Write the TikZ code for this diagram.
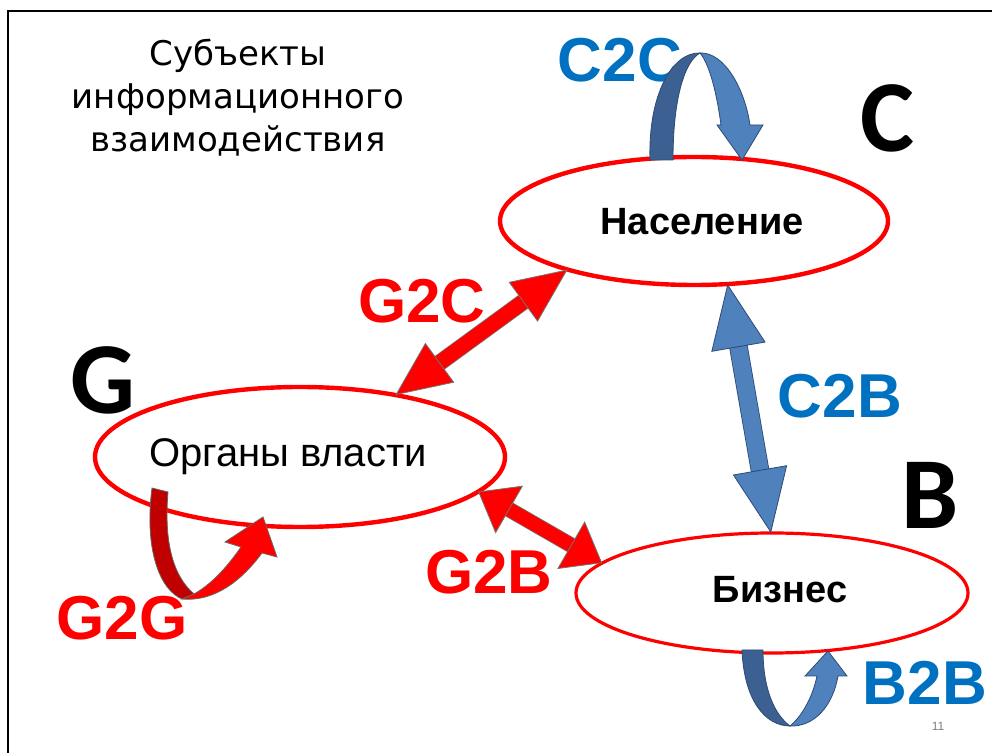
\documentclass[tikz,border=0pt]{standalone}
\usepackage{fontspec}
\setmainfont{Liberation Sans}
\newfontfamily\titlefont{DejaVu Sans}
\newfontfamily\letterfont{Carlito}
\usetikzlibrary{arrows.meta,shapes.geometric}

\definecolor{labelblue}{RGB}{0,112,192}
\definecolor{arrowblue}{RGB}{79,129,189}
\definecolor{backblue}{RGB}{60,96,145}
\definecolor{edgeblue}{RGB}{45,75,115}
\definecolor{backred}{RGB}{192,0,0}

\begin{document}
\begin{tikzpicture}[x=0.5pt,y=-0.5pt,
    subject/.style={ellipse,draw=red,line width=2.2pt,inner sep=0pt,outer sep=0pt},
    tag/.style={font=\fontsize{31}{31}\selectfont\bfseries},
    bigletter/.style={font=\letterfont\fontsize{51}{51}\selectfont\bfseries},
    g2clink/.style={red,line width=7.5pt,
        preaction={draw=black!55,arrows=-,line width=8.3pt,shorten <=20pt,shorten >=20pt},
        {Triangle[length=27.5pt,width=24.5pt,line width=0.4pt,color=black!55,fill=red]}-{Triangle[length=27.5pt,width=24.5pt,line width=0.4pt,color=black!55,fill=red]}},
    g2blink/.style={red,line width=7pt,
        preaction={draw=black!55,arrows=-,line width=7.8pt,shorten <=13pt,shorten >=13pt},
        {Triangle[length=18pt,width=27.5pt,line width=0.4pt,color=black!55,fill=red]}-{Triangle[length=18pt,width=27.5pt,line width=0.4pt,color=black!55,fill=red]}},
    c2blink/.style={arrowblue,line width=8.5pt,
        preaction={draw=edgeblue,arrows=-,line width=9.3pt,shorten <=24pt,shorten >=24pt},
        {Triangle[length=32pt,width=27.5pt,line width=0.4pt,color=edgeblue,fill=arrowblue]}-{Triangle[length=32pt,width=27.5pt,line width=0.4pt,color=edgeblue,fill=arrowblue]}},
    ]
    \useasboundingbox (0,0) rectangle (992,753);
    \draw[line width=1.2pt] (8,800) |- (1000,11);

    \node[align=center,font=\titlefont\fontsize{17}{21.5}\selectfont] (title) at (238,98)
        {Субъекты\\информационного\\взаимодействия};

    \node[subject,minimum width=194pt,minimum height=64pt] (pop) at (694,221) {};
    \node[font=\fontsize{19}{19}\selectfont\bfseries] (popname) at (702,222) {Население};
    \node[subject,minimum width=205pt,minimum height=70pt] (gov) at (300,457) {};
    \node[font=\fontsize{20}{20}\selectfont] (govname) at (288,457) {Органы власти};
    \node[subject,line width=1.6pt,minimum width=196pt,minimum height=60pt] (biz) at (772,593) {};
    \node[font=\fontsize{19}{19}\selectfont\bfseries] (bizname) at (780,590) {Бизнес};

    \node[bigletter] (letC) at (887,118) {C};
    \node[bigletter] (letG) at (103,380) {G};
    \node[bigletter] (letB) at (930,495) {B};

    \node[tag,labelblue] (c2c) at (620,60) {C2C};
    \node[tag,red] (g2c) at (422,301) {G2C};
    \node[tag,labelblue] (c2b) at (840,396) {C2B};
    \node[tag,red] (g2b) at (489,572) {G2B};
    \node[tag,red] (g2g) at (122,618) {G2G};
    \node[tag,labelblue] (b2b) at (925,683) {B2B};
    \node[font=\fontsize{6}{6}\selectfont,gray] (pagenum) at (938,726) {11};

    \draw[g2clink] (gov.33) -- (pop.201);
    \draw[g2blink] (gov.-11) -- (biz.170);
    \draw[c2blink] (pop.-62) -- (biz.91);

    \filldraw[draw=edgeblue,fill=backblue,line width=0.4pt] (650,160) .. controls (648,95) and (672,52) .. (700,53)
        .. controls (684,62) and (673,100) .. (673,160) -- cycle;
    \filldraw[draw=edgeblue,fill=arrowblue,line width=0.4pt] (700,53) .. controls (725,52) and (745,90) .. (750,125)
        -- (763,125) -- (742,160) -- (717,125) -- (721,125) .. controls (717,95) and (710,65) .. (700,53) -- cycle;

    \filldraw[draw=edgeblue,fill=backblue,line width=0.4pt] (742,650) .. controls (744,700) and (765,726) .. (790,726)
        .. controls (775,715) and (763,690) .. (763,650) -- cycle;
    \filldraw[draw=edgeblue,fill=arrowblue,line width=0.4pt] (790,726) .. controls (815,727) and (833,705) .. (838,676)
        -- (847,676) -- (828,651) -- (805,676) -- (817,676) .. controls (812,700) and (800,718) .. (790,726) -- cycle;

    \filldraw[draw=black!60,fill=backred,line width=0.4pt] (152,488) .. controls (144,550) and (160,590) .. (182,599)
        -- (194,594) .. controls (172,575) and (164,540) .. (168,492) -- cycle;
    \filldraw[draw=black!60,fill=red,line width=0.4pt] (182,599) .. controls (215,602) and (242,580) .. (262,553)
        -- (277,557) -- (263,517) -- (225,542) -- (241,547) .. controls (225,570) and (210,585) .. (194,594) -- cycle;
\end{tikzpicture}
\end{document}
